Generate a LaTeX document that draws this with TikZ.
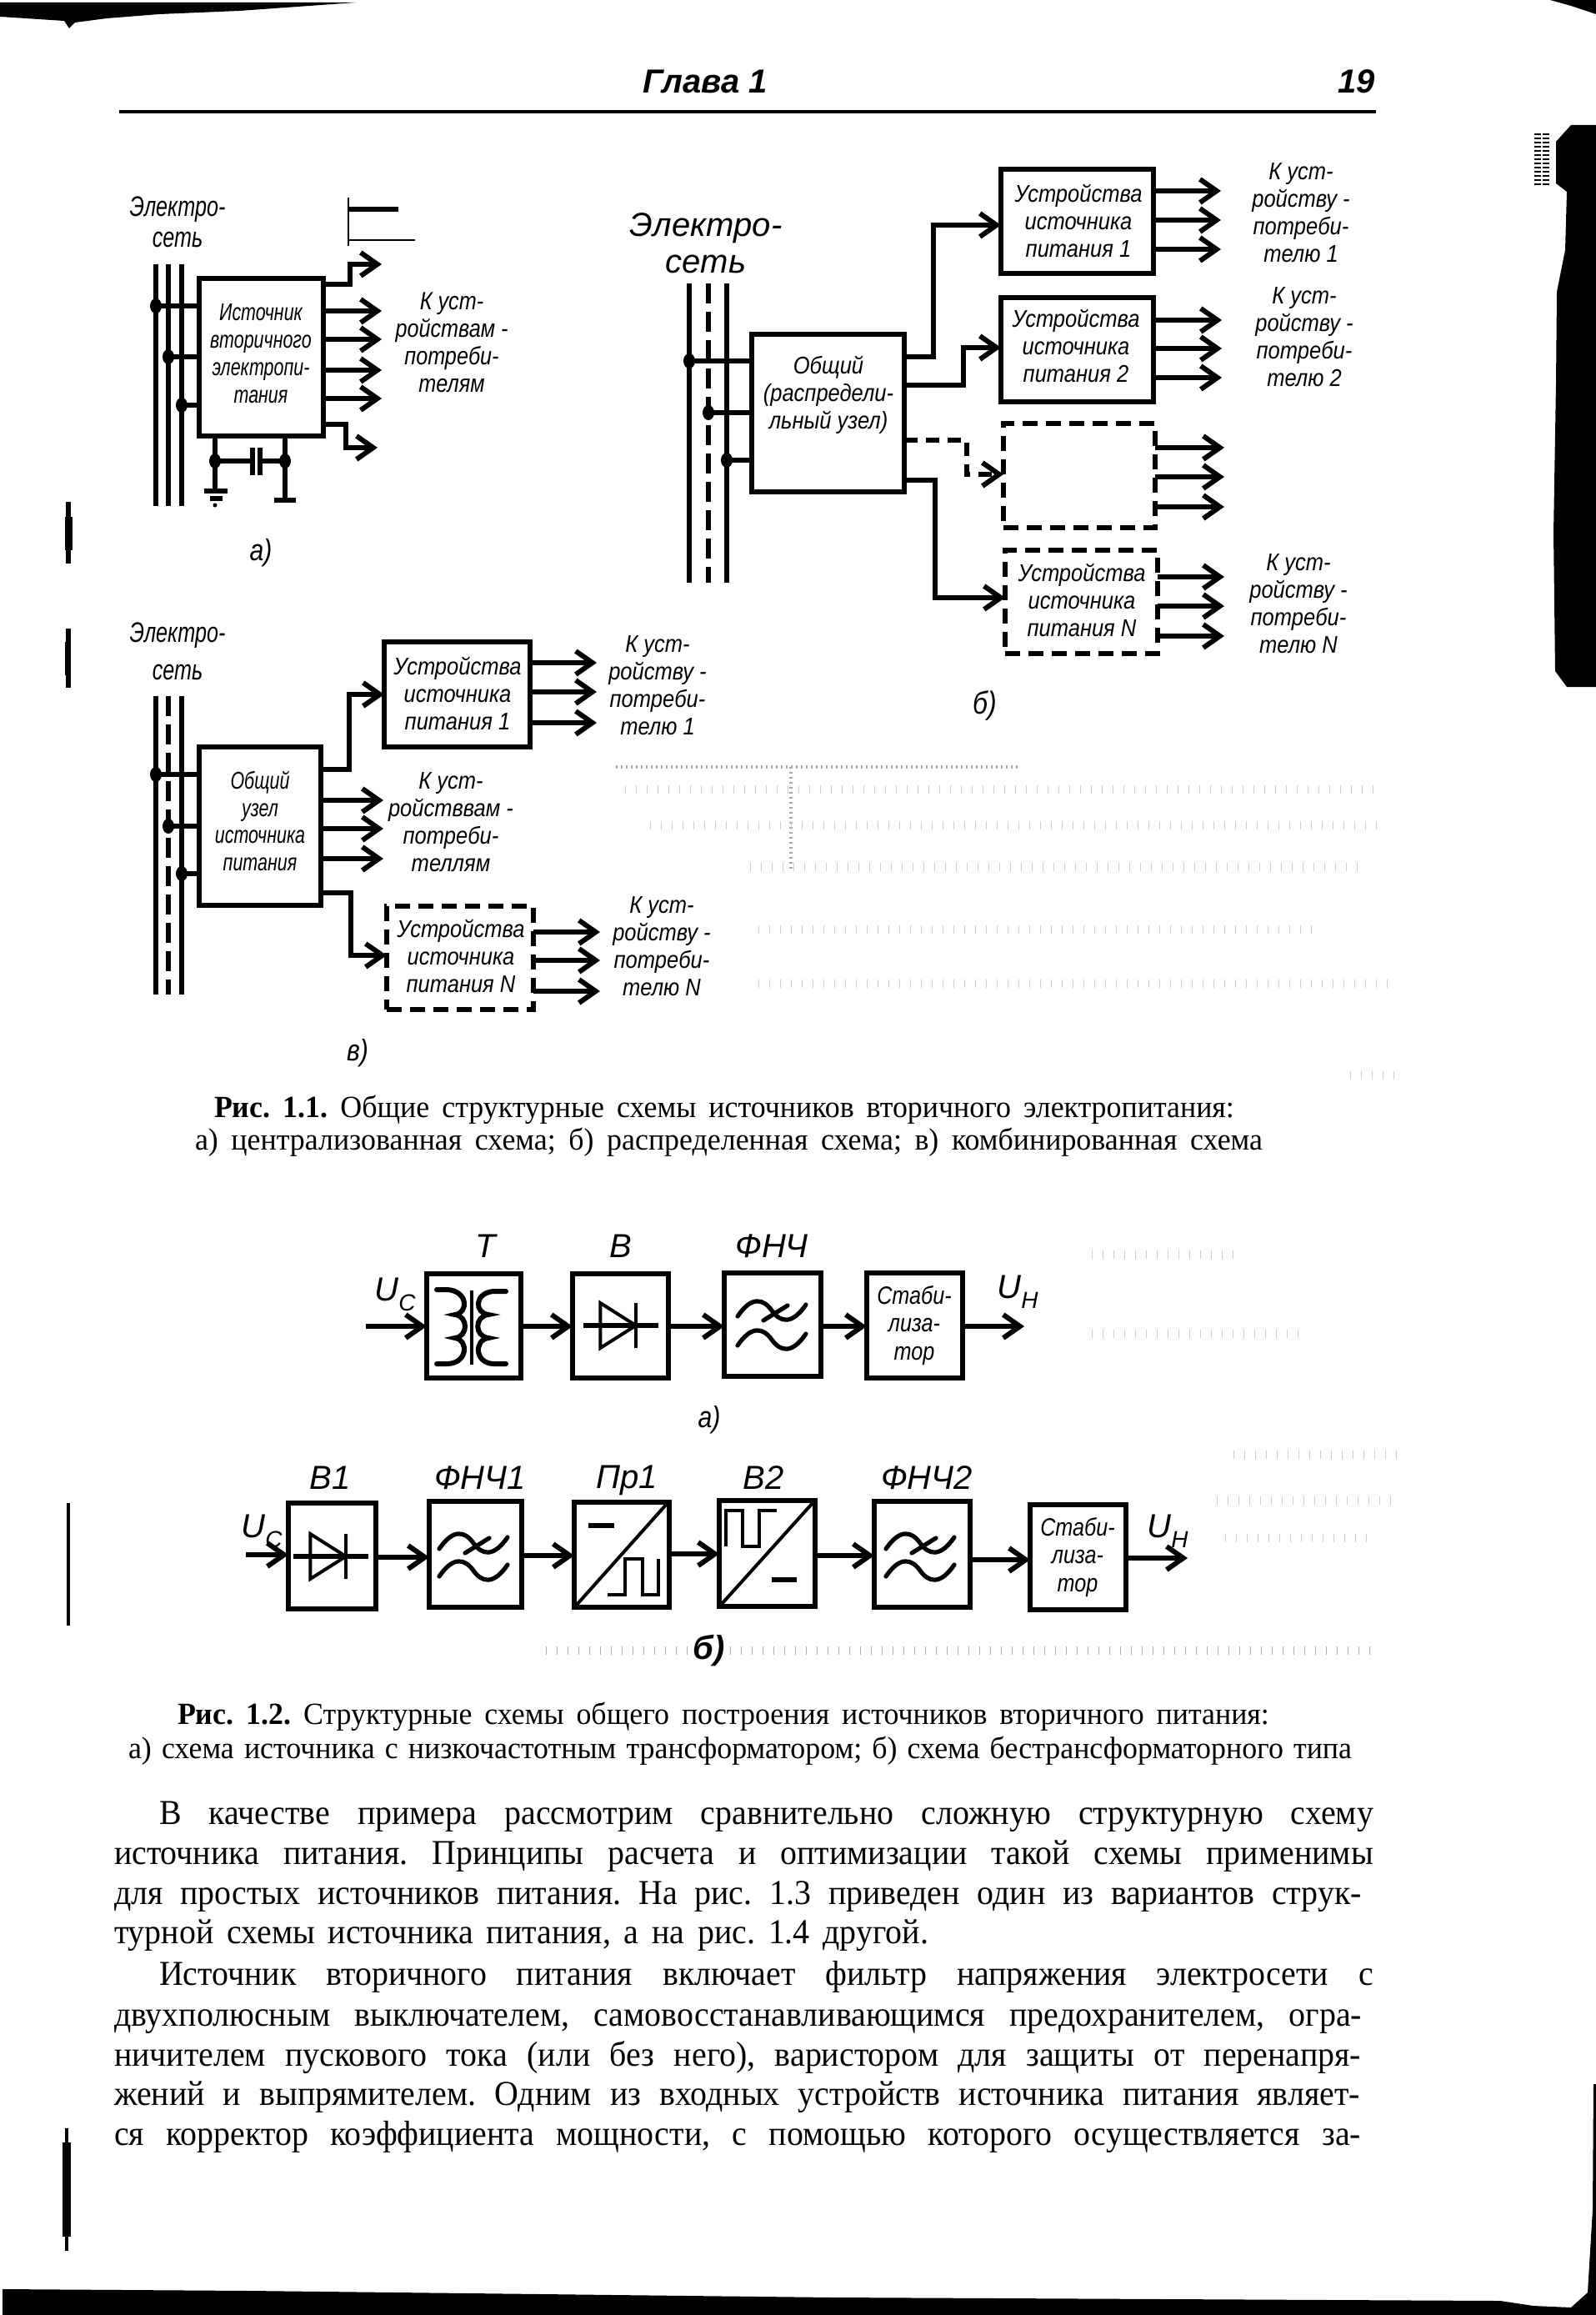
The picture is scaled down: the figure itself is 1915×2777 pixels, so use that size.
\documentclass[tikz,border=0pt]{standalone}
\usepackage{fontspec}
\usetikzlibrary{arrows.meta,calc}
\setmainfont{Liberation Serif}
\newfontfamily\lsans{Liberation Sans}
\newfontfamily\lsansm[FakeStretch=0.88]{Liberation Sans}
\newfontfamily\lsansc[FakeStretch=0.84]{Liberation Sans}
\newfontfamily\lsanscc[FakeStretch=0.74]{Liberation Sans}
\newfontfamily\bodyf[FakeStretch=0.95]{Liberation Serif}
\newfontfamily\capf[FakeStretch=0.97]{Liberation Serif}
\tikzset{
  boxn/.style={draw=black,line width=2.7pt,fill=none,inner sep=0pt,outer sep=0pt},
  dbox/.style={dash pattern=on 9pt off 5pt},
  wire/.style={line width=2.6pt},
  arr/.style={line width=2.8pt,-{Straight Barb[length=10pt,width=14pt,line width=3pt]}},
  darr/.style={arr,dash pattern=on 8pt off 5pt},
  lbl/.style={inner sep=0pt,outer sep=0pt,align=center},
  lsA/.style={lbl,font=\lsansc\itshape\fontsize{15}{16.5}\selectfont},
  lsB/.style={lbl,font=\lsansm\itshape\fontsize{14.5}{16.5}\selectfont},
  lsE/.style={lbl,font=\lsanscc\itshape\fontsize{17}{18.5}\selectfont},
  lsEb/.style={lbl,font=\lsans\itshape\fontsize{20}{22}\selectfont},
  lsT/.style={lbl,font=\lsans\itshape\fontsize{20}{22}\selectfont},
  lsS/.style={lbl,font=\lsansc\itshape\fontsize{15}{16.6}\selectfont},
  ghost/.style={line width=5pt,draw=gray!40,dash pattern=on 0.5pt off 6pt},
  scan/.style={fill=black,draw=none}
}
\newcommand\blk[6]{%
  \pgfmathsetmacro\bw{(#4-#2)*0.5}\pgfmathsetmacro\bh{(#5-#3)*0.5}%
  \pgfmathsetmacro\bcx{(#2+#4)/2}\pgfmathsetmacro\bcy{(#3+#5)/2}%
  \node[boxn,#6,minimum width=\bw pt,minimum height=\bh pt] (#1) at (\bcx,\bcy) {};}
\newcommand\outarr[5][arr]{%
  \coordinate (#2) at (#5,#4);\draw[#1] (#3.east |- #2) -- (#2);}
\newcommand\taparr[4]{%
  \coordinate (#1) at (#2,#3);\draw[wire] (#1) -- (#4.west |- #1);\fill (#1) circle[x radius=7,y radius=9];}
\newcommand\linkarr[3]{%
  \coordinate (l#1#2) at (#1.east |- 0,#3);\draw[arr] (l#1#2) -- (#2.west |- l#1#2);}
\newcommand\txtline[5]{%
  \pgfmathsetmacro\lw{(#3-#2)*0.5}%
  \node[lbl,anchor=base west] (#1) at (#2,#4) {\makebox[\lw pt][s]{\bodyf\frenchspacing\fontsize{21}{24}\selectfont #5}};}
\newcommand\capline[5]{%
  \pgfmathsetmacro\lw{(#3-#2)*0.5}%
  \node[lbl,anchor=base west] (#1) at (#2,#4) {\makebox[\lw pt][s]{\capf\frenchspacing\fontsize{18.5}{22}\selectfont #5}};}
\newcommand\tld[2]{%
  \draw[line width=2.6pt,line cap=round] ({#1-41},{#2+7}) .. controls ({#1-24},{#2-18}) and ({#1-10},{#2-14}) .. (#1,#2)
     .. controls ({#1+10},{#2+14}) and ({#1+24},{#2+18}) .. ({#1+41},{#2-7});}
\newcommand\tldx[2]{%
  \tld{#1}{#2}\draw[line width=2.6pt,line cap=round] ({#1-10},{#2+12}) -- ({#1+19},{#2-6});}
\newcommand\diode[3]{% apex x, centre y, half-height
  \draw[line width=2pt,line join=miter] ({#1-#3*1.58},{#2-#3}) -- (#1,#2) -- ({#1-#3*1.58},{#2+#3}) -- cycle;
  \draw[line width=2pt] (#1,{#2-#3}) -- (#1,{#2+#3});
  \draw[line width=2.8pt] ({#1-63},#2) -- ({#1+27},#2);}
\begin{document}
\begin{tikzpicture}[x=0.5pt,y=-0.5pt]
\useasboundingbox (0,0) rectangle (1915,2777);
\fill[white] (0,0) rectangle (1915,2777);

% --- scan edges
\fill[scan] (0,3) -- (427,3) -- (287,13) -- (191,17) -- (128,22) -- (90,27) -- (83,34) -- (77,25) -- (0,20) -- cycle;
\fill[scan] (1860,0) -- (1915,0) -- (1915,17) -- (1885,7) -- cycle;
\fill[scan] (1885,150) -- (1915,150) -- (1915,824) -- (1880,824) -- (1866,805) -- (1864,640) -- (1867,460) -- (1868,350) -- (1878,300) -- (1880,230) -- (1867,220) -- (1867,170) -- cycle;
\fill[scan] (3,2746) -- (300,2748) -- (1000,2756) -- (1800,2760) -- (1840,2766) -- (1885,2768) -- (1905,2750) -- (1911,2650) -- (1912,2500) -- (1915,2500) -- (1915,2777) -- (3,2777) -- cycle;
\fill[scan] (79,602) rectangle (85,676); \fill[scan] (78,620) rectangle (87,660);
\fill[scan] (79,754) rectangle (85,825); \fill[scan] (78,770) rectangle (85,810);
\fill[scan] (80,1803) rectangle (84,1950);
\fill[scan] (78,2553) rectangle (82,2700); \fill[scan] (75,2570) rectangle (85,2683);
\draw[line width=4pt,draw=black,dash pattern=on 1pt off 1.5pt] (1845,160) -- (1845,225);
\draw[line width=4pt,draw=black,dash pattern=on 1pt off 1.5pt] (1855,160) -- (1855,225);

% --- ghost bleed-through
\draw[ghost,draw=gray!60] (655,1980) -- (1647,1980);
\draw[ghost,line width=2pt,dash pattern=on 1pt off 2pt,draw=gray!70] (739,920) -- (1222,920);
\draw[ghost,line width=2pt,dash pattern=on 1pt off 2pt,draw=gray!70] (949,920) -- (949,1045);
\draw[ghost] (750,947) -- (1660,947);
\draw[ghost] (780,990) -- (1660,990);
\draw[ghost] (900,1040) -- (1640,1040);
\draw[ghost] (910,1115) -- (1580,1115);
\draw[ghost] (910,1180) -- (1670,1180);
\draw[ghost] (1310,1505) -- (1480,1505);
\draw[ghost] (1310,1600) -- (1570,1600);
\draw[ghost] (1480,1745) -- (1680,1745);
\draw[ghost] (1460,1800) -- (1680,1800);
\draw[ghost] (1470,1845) -- (1650,1845);
\draw[ghost] (1620,1290) -- (1680,1290);

% --- header
\node[lbl,anchor=base,font=\lsans\bfseries\itshape\fontsize{20}{24}\selectfont] (hd) at (846,112) {Глава 1};
\node[lbl,anchor=base east,font=\lsans\bfseries\itshape\fontsize{20}{24}\selectfont] (pg) at (1650,112) {19};
\coordinate (ruleL) at (143,134); \coordinate (ruleR) at (1651,134);
\draw[line width=2pt] (ruleL) -- (ruleR);

% ===== Fig 1.1 a
\node[lsE] (aE) at (213,266) {Электро-\\сеть};
\draw[line width=1pt] (418,237) -- (418,295);
\draw[line width=2.6pt] (418,251) -- (478,251);
\draw[line width=0.9pt] (418,288) -- (498,288);
\foreach \bn/\bx in {aA/187,aB/202,aC/218}{
  \coordinate (\bn t) at (\bx,317); \coordinate (\bn b) at (\bx,607);
  \draw[wire] (\bn t) -- (\bn b);}
\blk{boxa}{239}{334}{388}{523}{}
\taparr{at1}{187}{367}{boxa}
\taparr{at2}{202}{428}{boxa}
\taparr{at3}{218}{486}{boxa}
\node[lbl,font=\lsanscc\itshape\fontsize{14.5}{16.5}\selectfont] (aT) at (313,424) {Источник\\вторичного\\электропи-\\тания};
\coordinate (ao0) at (458,317);
\draw[arr] (boxa.east |- 0,341) -- (420,341) |- (ao0);
\outarr{ao1}{boxa}{373}{458}
\outarr{ao2}{boxa}{407}{458}
\outarr{ao3}{boxa}{444}{458}
\outarr{ao4}{boxa}{478}{458}
\coordinate (ao5) at (453,537);
\draw[arr] (boxa.east |- 0,509) -- (415,509) |- (ao5);
\node[lsA] (aR) at (542,411) {К уст-\\ройствам -\\потреби-\\телям};
\coordinate (ac1) at (258,553); \coordinate (ac2) at (342,553);
\coordinate (ag1) at (258,589); \coordinate (ag2) at (342,600);
\draw[wire] (boxa.south -| ac1) -- (ag1);
\draw[wire] (boxa.south -| ac2) -- (ag2);
\draw[wire] (ac1) -- (303,553) (312,553) -- (ac2);
\draw[line width=2.6pt] (303,537) -- (303,570) (312,537) -- (312,570);
\fill (ac1) circle[x radius=7,y radius=9]; \fill (ac2) circle[x radius=7,y radius=9];
\draw[line width=2.6pt] (245,589) -- (273,589) (252,598) -- (267,598);
\fill (258,606) circle[radius=2.5];
\draw[line width=3pt] (329,600) -- (355,600);
\node[lsE,font=\lsansc\itshape\fontsize{18}{22}\selectfont] (aL) at (313,663) {а)};

% ===== Fig 1.1 b
\node[lsEb] (bE) at (847,292) {Электро-\\сеть};
\coordinate (bAt) at (827,340); \coordinate (bAb) at (827,699);
\coordinate (bBt) at (850,340); \coordinate (bBb) at (850,699);
\coordinate (bCt) at (872,340); \coordinate (bCb) at (872,699);
\draw[wire] (bAt) -- (bAb); \draw[wire] (bCt) -- (bCb);
\draw[wire,dash pattern=on 12pt off 5pt] (bBt) -- (bBb);
\blk{boxb}{902}{401}{1085}{590}{}
\taparr{bt1}{827}{433}{boxb}
\taparr{bt2}{850}{495}{boxb}
\taparr{bt3}{872}{552}{boxb}
\node[lsB] (bT) at (994,474) {Общий\\(распредели-\\льный узел)};
\blk{b1}{1201}{203}{1384}{328}{}
\blk{b2}{1201}{357}{1384}{482}{}
\blk{b3}{1204}{508}{1386}{633}{dbox}
\blk{bN}{1206}{660}{1389}{784}{dbox}
\node[lsB] (b1T) at (1294,265) {Устройства\\источника\\питания 1};
\node[lsB] (b2T) at (1291,415) {Устройства\\источника\\питания 2};
\node[lsB] (bNT) at (1298,720) {Устройства\\источника\\питания N};
\draw[arr] (boxb.east |- 0,428) -- (1120,428) |- (b1.west |- 0,270);
\draw[arr] (boxb.east |- 0,462) -- (1156,462) |- (b2.west |- 0,417);
\draw[darr] (boxb.east |- 0,528) -- (1160,528) |- (b3.west |- 0,569);
\draw[arr] (boxb.east |- 0,576) -- (1122,576) |- (bN.west |- 0,717);
\outarr{bo11}{b1}{229}{1465}\outarr{bo12}{b1}{264}{1465}\outarr{bo13}{b1}{299}{1465}
\outarr{bo21}{b2}{384}{1466}\outarr{bo22}{b2}{418}{1466}\outarr{bo23}{b2}{453}{1466}
\outarr{bo31}{b3}{537}{1469}\outarr{bo32}{b3}{572}{1469}\outarr{bo33}{b3}{608}{1469}
\outarr{bo41}{bN}{692}{1469}\outarr{bo42}{bN}{727}{1469}\outarr{bo43}{bN}{763}{1469}
\node[lsB] (bR1) at (1561,255) {К уст-\\ройству -\\потреби-\\телю 1};
\node[lsB] (bR2) at (1565,404) {К уст-\\ройству -\\потреби-\\телю 2};
\node[lsB] (bR3) at (1558,724) {К уст-\\ройству -\\потреби-\\телю N};
\node[lbl,font=\lsansc\itshape\fontsize{19}{22}\selectfont] (bL) at (1182,846) {б)};

% ===== Fig 1.1 v
\node[lsE,font=\lsanscc\itshape\fontsize{17}{22.5}\selectfont] (vE) at (213,781) {Электро-\\сеть};
\coordinate (vAt) at (187,835); \coordinate (vAb) at (187,1193);
\coordinate (vBt) at (202,835); \coordinate (vBb) at (202,1193);
\coordinate (vCt) at (218,835); \coordinate (vCb) at (218,1193);
\draw[wire] (vAt) -- (vAb); \draw[wire] (vCt) -- (vCb);
\draw[wire,dash pattern=on 12pt off 5pt] (vBt) -- (vBb);
\blk{boxv}{239}{896}{385}{1086}{}
\taparr{vt1}{187}{929}{boxv}
\taparr{vt2}{202}{991}{boxv}
\taparr{vt3}{218}{1048}{boxv}
\node[lbl,font=\lsanscc\itshape\fontsize{14.5}{16.3}\selectfont] (vT) at (312,985) {Общий\\узел\\источника\\питания};
\blk{v1}{461}{770}{636}{896}{}
\blk{vN}{464}{1087}{640}{1211}{dbox}
\node[lsB] (v1T) at (549,832) {Устройства\\источника\\питания 1};
\node[lsB] (vNT) at (553,1147) {Устройства\\источника\\питания N};
\draw[arr] (boxv.east |- 0,923) -- (419,923) |- (v1.west |- 0,833);
\draw[arr] (boxv.east |- 0,1071) -- (421,1071) |- (vN.west |- 0,1146);
\outarr{vo1}{v1}{795}{716}\outarr{vo2}{v1}{830}{716}\outarr{vo3}{v1}{867}{716}
\outarr{vm1}{boxv}{960}{460}\outarr{vm2}{boxv}{994}{460}\outarr{vm3}{boxv}{1030}{460}
\outarr{vo4}{vN}{1118}{720}\outarr{vo5}{vN}{1152}{720}\outarr{vo6}{vN}{1189}{720}
\node[lsB] (vR1) at (789,822) {К уст-\\ройству -\\потреби-\\телю 1};
\node[lsB] (vRm) at (541,986) {К уст-\\ройстввам -\\потреби-\\теллям};
\node[lsB] (vRN) at (794,1135) {К уст-\\ройству -\\потреби-\\телю N};
\node[lbl,font=\lsansc\itshape\fontsize{18}{22}\selectfont] (vL) at (429,1263) {в)};

% --- caption 1.1
\capline{c11}{257}{1481}{1340}{{\bfseries Рис. 1.1.} Общие структурные схемы источников вторичного электропитания:}
\capline{c12}{234}{1515}{1379}{а) централизованная схема; б) распределенная схема; в) комбинированная схема}

% ===== Fig 1.2 a
\node[lsT] (tT) at (583,1495) {Т};
\node[lsT] (tB) at (745,1495) {В};
\node[lsT] (tF) at (926,1495) {ФНЧ};
\blk{pT}{512}{1528}{625}{1653}{}
\blk{pB}{687}{1528}{802}{1653}{}
\blk{pF}{869}{1527}{985}{1651}{}
\blk{pS}{1040}{1527}{1155}{1653}{}
\node[lsT] (pU) at (474,1553) {U\raisebox{-0.3em}{\fontsize{14}{14}\selectfont С}};
\node[lsT] (pH) at (1221,1550) {U\raisebox{-0.3em}{\fontsize{14}{14}\selectfont Н}};
\coordinate (pI) at (439,1591); \coordinate (pO) at (1229,1591);
\draw[arr] (pI) -- (pT.west |- pI);
\linkarr{pT}{pB}{1591}\linkarr{pB}{pF}{1591}\linkarr{pF}{pS}{1591}
\draw[arr] (pS.east |- pO) -- (pO);
\node[lsS] (pST) at (1097,1590) {Стаби-\\лиза-\\тор};
% transformer
\draw[line width=2pt] (566,1548) -- (566,1637);
\draw[line width=3pt,line cap=round] (524,1547) -- (537,1547) .. controls (562,1549) and (562,1575) .. (546,1577)
   .. controls (562,1579) and (562,1603) .. (546,1605)
   .. controls (562,1607) and (562,1635) .. (537,1636) -- (524,1636);
\draw[line width=3pt,line cap=round] (607,1549) -- (592,1549) .. controls (569,1551) and (569,1575) .. (586,1577)
   .. controls (569,1579) and (569,1603) .. (586,1605)
   .. controls (569,1607) and (569,1635) .. (592,1636) -- (607,1636);
\diode{763}{1590}{27}
\tldx{926}{1572}\tld{926}{1607}
\node[lbl,font=\lsansc\itshape\fontsize{18}{22}\selectfont] (pL) at (851,1703) {а)};

% ===== Fig 1.2 b
\node[lsT] (qt1) at (396,1773) {В1};
\node[lsT] (qt2) at (576,1773) {ФНЧ1};
\node[lsT] (qt3) at (752,1776) {Пр1};
\node[lsT] (qt4) at (916,1773) {В2};
\node[lsT] (qt5) at (1112,1773) {ФНЧ2};
\blk{q1}{346}{1803}{451}{1930}{}
\blk{q2}{515}{1801}{626}{1928}{}
\blk{q3}{689}{1802}{803}{1928}{}
\blk{q4}{863}{1800}{978}{1927}{}
\blk{q5}{1049}{1801}{1164}{1928}{}
\blk{q6}{1236}{1805}{1351}{1931}{}
\node[lsT] (qU) at (314,1837) {U\raisebox{-0.3em}{\fontsize{14}{14}\selectfont С}};
\node[lsT] (qH) at (1401,1837) {U\raisebox{-0.3em}{\fontsize{14}{14}\selectfont Н}};
\coordinate (qI) at (295,1865); \coordinate (qO) at (1425,1869);
\draw[arr] (qI) -- (q1.west |- qI);
\linkarr{q1}{q2}{1868}\linkarr{q2}{q3}{1866}\linkarr{q3}{q4}{1864}\linkarr{q4}{q5}{1866}\linkarr{q5}{q6}{1871}
\draw[arr] (q6.east |- qO) -- (qO);
\node[lsS] (qST) at (1293,1868) {Стаби-\\лиза-\\тор};
\diode{415}{1867}{27}
\tldx{568}{1851}\tld{568}{1884}
\tldx{1104}{1851}\tld{1104}{1884}
% converter
\draw[line width=2pt] (692,1925) -- (800,1804);
\draw[line width=3pt] (706,1830) -- (737,1830);
\draw[line width=2.4pt] (729,1913) -- (750,1913) -- (750,1870) -- (771,1870) -- (771,1913) -- (790,1913) -- (790,1870);
\draw[line width=2pt] (866,1924) -- (975,1803);
\draw[line width=3pt] (926,1895) -- (956,1895);
\draw[line width=2.4pt] (871,1855) -- (871,1812) -- (891,1812) -- (891,1855) -- (911,1855) -- (911,1812) -- (932,1812);
\node[lbl,font=\lsans\bfseries\itshape\fontsize{20}{22}\selectfont] (qL) at (851,1980) {б)};

% --- caption 1.2
\capline{c21}{213}{1523}{2068}{{\bfseries Рис. 1.2.} Структурные схемы общего построения источников вторичного питания:}
\capline{c22}{154}{1622}{2109}{а) схема источника с низкочастотным трансформатором; б) схема бестрансформаторного типа}

% --- body text
\txtline{t1}{191}{1648}{2188}{В качестве примера рассмотрим сравнительно сложную структурную схему}
\txtline{t2}{137}{1648}{2236}{источника питания. Принципы расчета и оптимизации такой схемы применимы}
\txtline{t3}{137}{1634}{2284}{для простых источников питания. На рис. 1.3 приведен один из вариантов струк-}
\txtline{t4}{137}{1114}{2331}{турной схемы источника питания, а на рис. 1.4 другой.}
\txtline{t5}{191}{1648}{2381}{Источник вторичного питания включает фильтр напряжения электросети с}
\txtline{t6}{137}{1634}{2430}{двухполюсным выключателем, самовосстанавливающимся предохранителем, огра-}
\txtline{t7}{137}{1633}{2478}{ничителем пускового тока (или без него), варистором для защиты от перенапря-}
\txtline{t8}{137}{1632}{2525}{жений и выпрямителем. Одним из входных устройств источника питания являет-}
\txtline{t9}{137}{1633}{2573}{ся корректор коэффициента мощности, с помощью которого осуществляется за-}
\end{tikzpicture}
\end{document}
